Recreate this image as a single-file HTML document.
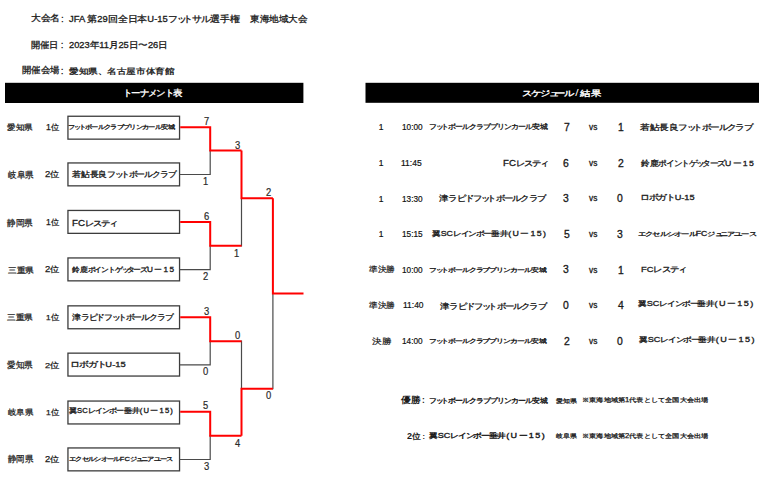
<!DOCTYPE html><html lang="ja"><head><meta charset="utf-8"><title>JFA 第29回全日本U-15フットサル選手権 東海地域大会</title><style>
html,body{margin:0;padding:0;background:#fff;}body{width:768px;height:480px;position:relative;overflow:hidden;font-family:"Liberation Sans", sans-serif;}#w{position:absolute;left:0;top:0;width:768px;height:480px;}
.t{position:absolute;line-height:1;white-space:nowrap;transform-origin:0 0;}
</style></head><body><div id="w">
<svg style="position:absolute;left:0;top:0" width="768" height="480" viewBox="0 0 768 480"><rect x="5" y="82.8" width="298.4" height="20.2" fill="#000"/><rect x="365.5" y="82.8" width="393.5" height="20.0" fill="#000"/><rect x="67.95" y="116.25" width="111.60" height="22.90" fill="#fff" stroke="#3c3c3c" stroke-width="1.3"/><rect x="67.95" y="162.95" width="111.60" height="22.90" fill="#fff" stroke="#3c3c3c" stroke-width="1.3"/><rect x="67.95" y="210.45" width="111.60" height="22.90" fill="#fff" stroke="#3c3c3c" stroke-width="1.3"/><rect x="67.95" y="257.95" width="111.60" height="22.90" fill="#fff" stroke="#3c3c3c" stroke-width="1.3"/><rect x="67.95" y="305.85" width="111.60" height="22.90" fill="#fff" stroke="#3c3c3c" stroke-width="1.3"/><rect x="67.95" y="353.15" width="111.60" height="22.90" fill="#fff" stroke="#3c3c3c" stroke-width="1.3"/><rect x="67.95" y="401.05" width="111.60" height="22.90" fill="#fff" stroke="#3c3c3c" stroke-width="1.3"/><rect x="67.95" y="447.95" width="111.60" height="22.90" fill="#fff" stroke="#3c3c3c" stroke-width="1.3"/><path d="M180.20 174.50H210.20V150.60M180.20 269.70H210.20V245.85M180.20 364.90H210.20V341.15M180.20 459.50H210.20V435.70M241.50 198.20V245.85M241.50 341.15V388.70M272.90 293.60V388.70" fill="none" stroke="#4a4a4a" stroke-width="1.2" stroke-linejoin="miter" stroke-linecap="square"/><path d="M180.20 127.35H210.20V150.60H241.50M180.20 222.05H210.20V245.85H241.50M180.20 317.30H210.20V341.15H241.50M180.20 411.70H210.20V435.70H241.50M241.50 150.60V198.20H272.90M241.50 435.70V388.70H272.90M272.90 198.20V293.60H303.50" fill="none" stroke="#f00" stroke-width="2.0" stroke-linejoin="miter" stroke-linecap="butt"/></svg>
<div class="t" style="left:30.66px;top:14.08px;font-size:8.65px;font-weight:normal;color:#1a1a1a;transform:scaleX(1.0803);-webkit-text-stroke:0.300px #1a1a1a">大会名</div>
<div class="t" style="left:61.33px;top:16.08px;font-size:8.13px;font-weight:normal;color:#1a1a1a;transform:scaleX(1.0000);-webkit-text-stroke:0.300px #1a1a1a">:</div>
<div class="t" style="left:68.61px;top:14.73px;font-size:8.50px;font-weight:normal;color:#1a1a1a;transform:scaleX(1.1040);-webkit-text-stroke:0.300px #1a1a1a">JFA 第29回全日本U-15<span style="letter-spacing:-0.12em">フ</span><span style="letter-spacing:-0.35em">ッ</span><span style="letter-spacing:-0.12em">トサル</span>選手権</div>
<div class="t" style="left:249.65px;top:14.81px;font-size:8.65px;font-weight:normal;color:#1a1a1a;transform:scaleX(1.0657);-webkit-text-stroke:0.300px #1a1a1a">東海地域大会</div>
<div class="t" style="left:31.05px;top:40.79px;font-size:8.86px;font-weight:normal;color:#1a1a1a;transform:scaleX(1.0265);-webkit-text-stroke:0.300px #1a1a1a">開催日</div>
<div class="t" style="left:60.92px;top:42.08px;font-size:8.13px;font-weight:normal;color:#1a1a1a;transform:scaleX(1.0000);-webkit-text-stroke:0.300px #1a1a1a">:</div>
<div class="t" style="left:68.66px;top:40.57px;font-size:8.78px;font-weight:normal;color:#1a1a1a;transform:scaleX(1.0612);-webkit-text-stroke:0.300px #1a1a1a">2023年11月25日〜26日</div>
<div class="t" style="left:21.61px;top:66.32px;font-size:8.66px;font-weight:normal;color:#1a1a1a;transform:scaleX(1.0392);-webkit-text-stroke:0.300px #1a1a1a">開催会場</div>
<div class="t" style="left:61.09px;top:68.24px;font-size:8.28px;font-weight:normal;color:#1a1a1a;transform:scaleX(1.0000);-webkit-text-stroke:0.300px #1a1a1a">:</div>
<div class="t" style="left:69.12px;top:67.77px;font-size:8.23px;font-weight:normal;color:#1a1a1a;transform:scaleX(1.1970);-webkit-text-stroke:0.300px #1a1a1a">愛知県、名古屋市体育館</div>
<div class="t" style="left:123.18px;top:89.25px;font-size:8.54px;font-weight:normal;color:#fff;transform:scaleX(1.0461);-webkit-text-stroke:0.350px #fff"><span style="letter-spacing:-0.12em">トーナメント</span>表</div>
<div class="t" style="left:522.40px;top:89.03px;font-size:8.46px;font-weight:normal;color:#fff;transform:scaleX(1.2859);-webkit-text-stroke:0.350px #fff"><span style="letter-spacing:-0.12em">スケジ</span><span style="letter-spacing:-0.35em">ュ</span><span style="letter-spacing:-0.12em">ール</span><span style="font-size:1.1em;line-height:0;margin-left:0.15em;letter-spacing:0.15em;font-weight:normal;-webkit-text-stroke:0">/</span>結果</div>
<div class="t" style="left:7.25px;top:122.52px;font-size:8.47px;font-weight:normal;color:#1a1a1a;transform:scaleX(1.0653);-webkit-text-stroke:0.250px #1a1a1a">愛知県</div>
<div class="t" style="left:45.94px;top:123.32px;font-size:8.46px;font-weight:normal;color:#1a1a1a;transform:scaleX(1.0340);-webkit-text-stroke:0.250px #1a1a1a">1位</div>
<div class="t" style="left:7.71px;top:170.74px;font-size:8.54px;font-weight:normal;color:#1a1a1a;transform:scaleX(0.9462);-webkit-text-stroke:0.250px #1a1a1a">岐阜県</div>
<div class="t" style="left:45.13px;top:171.11px;font-size:8.26px;font-weight:normal;color:#1a1a1a;transform:scaleX(1.1551);-webkit-text-stroke:0.250px #1a1a1a">2位</div>
<div class="t" style="left:7.47px;top:218.50px;font-size:8.65px;font-weight:normal;color:#1a1a1a;transform:scaleX(0.9545);-webkit-text-stroke:0.250px #1a1a1a">静岡県</div>
<div class="t" style="left:45.77px;top:219.43px;font-size:8.26px;font-weight:normal;color:#1a1a1a;transform:scaleX(1.0346);-webkit-text-stroke:0.250px #1a1a1a">1位</div>
<div class="t" style="left:7.69px;top:265.79px;font-size:8.45px;font-weight:normal;color:#1a1a1a;transform:scaleX(1.0823);-webkit-text-stroke:0.250px #1a1a1a">三重県</div>
<div class="t" style="left:45.13px;top:266.11px;font-size:8.26px;font-weight:normal;color:#1a1a1a;transform:scaleX(1.1551);-webkit-text-stroke:0.250px #1a1a1a">2位</div>
<div class="t" style="left:7.45px;top:313.96px;font-size:7.58px;font-weight:normal;color:#1a1a1a;transform:scaleX(1.0751);-webkit-text-stroke:0.250px #1a1a1a">三重県</div>
<div class="t" style="left:45.90px;top:313.65px;font-size:7.86px;font-weight:normal;color:#1a1a1a;transform:scaleX(1.0505);-webkit-text-stroke:0.250px #1a1a1a">1位</div>
<div class="t" style="left:7.31px;top:360.73px;font-size:8.86px;font-weight:normal;color:#1a1a1a;transform:scaleX(0.9527);-webkit-text-stroke:0.250px #1a1a1a">愛知県</div>
<div class="t" style="left:44.72px;top:361.60px;font-size:7.96px;font-weight:normal;color:#1a1a1a;transform:scaleX(1.1584);-webkit-text-stroke:0.250px #1a1a1a">2位</div>
<div class="t" style="left:7.66px;top:408.05px;font-size:8.44px;font-weight:normal;color:#1a1a1a;transform:scaleX(1.0567);-webkit-text-stroke:0.250px #1a1a1a">岐阜県</div>
<div class="t" style="left:46.06px;top:409.01px;font-size:8.06px;font-weight:normal;color:#1a1a1a;transform:scaleX(1.0499);-webkit-text-stroke:0.250px #1a1a1a">1位</div>
<div class="t" style="left:8.01px;top:455.30px;font-size:8.55px;font-weight:normal;color:#1a1a1a;transform:scaleX(0.9411);-webkit-text-stroke:0.250px #1a1a1a">静岡県</div>
<div class="t" style="left:45.05px;top:456.42px;font-size:8.16px;font-weight:normal;color:#1a1a1a;transform:scaleX(1.1546);-webkit-text-stroke:0.250px #1a1a1a">2位</div>
<div class="t" style="left:68.45px;top:123.94px;font-size:6.35px;font-weight:normal;color:#1a1a1a;transform:scaleX(1.2046);-webkit-text-stroke:0.300px #1a1a1a"><span style="letter-spacing:-0.12em">フ</span><span style="letter-spacing:-0.35em">ッ</span><span style="letter-spacing:-0.12em">トボールクラブプリンカール</span>安城</div>
<div class="t" style="left:72.33px;top:171.05px;font-size:7.86px;font-weight:normal;color:#1a1a1a;transform:scaleX(1.1032);-webkit-text-stroke:0.300px #1a1a1a">若鮎長良<span style="letter-spacing:-0.12em">フ</span><span style="letter-spacing:-0.35em">ッ</span><span style="letter-spacing:-0.12em">トボールクラブ</span></div>
<div class="t" style="left:72.12px;top:218.78px;font-size:8.29px;font-weight:normal;color:#1a1a1a;transform:scaleX(1.1695);-webkit-text-stroke:0.300px #1a1a1a">FC<span style="letter-spacing:-0.12em">レステ</span><span style="letter-spacing:-0.35em">ィ</span></div>
<div class="t" style="left:71.81px;top:265.67px;font-size:7.39px;font-weight:normal;color:#1a1a1a;transform:scaleX(1.1155);-webkit-text-stroke:0.300px #1a1a1a">鈴鹿<span style="letter-spacing:-0.12em">ポイントゲ</span><span style="letter-spacing:-0.35em">ッ</span><span style="letter-spacing:-0.12em">ターズ</span><span style="letter-spacing:0.16em">Uー15</span></div>
<div class="t" style="left:72.41px;top:313.79px;font-size:7.86px;font-weight:normal;color:#1a1a1a;transform:scaleX(1.1060);-webkit-text-stroke:0.300px #1a1a1a">津<span style="letter-spacing:-0.12em">ラピドフ</span><span style="letter-spacing:-0.35em">ッ</span><span style="letter-spacing:-0.12em">トボールクラブ</span></div>
<div class="t" style="left:70.45px;top:361.13px;font-size:7.52px;font-weight:normal;color:#1a1a1a;transform:scaleX(1.2457);-webkit-text-stroke:0.300px #1a1a1a"><span style="letter-spacing:-0.12em">ロボガト</span>U-15</div>
<div class="t" style="left:69.42px;top:408.43px;font-size:6.60px;font-weight:normal;color:#1a1a1a;transform:scaleX(1.1544);-webkit-text-stroke:0.300px #1a1a1a">翼SC<span style="letter-spacing:-0.12em">レインボー</span>垂井<span style="letter-spacing:0.16em">(Uー15)</span></div>
<div class="t" style="left:68.63px;top:455.96px;font-size:6.23px;font-weight:normal;color:#1a1a1a;transform:scaleX(1.2101);-webkit-text-stroke:0.300px #1a1a1a"><span style="letter-spacing:-0.12em">エクセルシオール</span>FC<span style="letter-spacing:-0.12em">ジ</span><span style="letter-spacing:-0.35em">ュ</span><span style="letter-spacing:-0.12em">ニアユース</span></div>
<div class="t" style="left:203.78px;top:116.97px;font-size:10.17px;font-weight:normal;color:#2a2a2a;transform:scaleX(0.9200);-webkit-text-stroke:0.200px #2a2a2a">7</div>
<div class="t" style="left:203.09px;top:177.34px;font-size:10.17px;font-weight:normal;color:#2a2a2a;transform:scaleX(0.9200);-webkit-text-stroke:0.200px #2a2a2a">1</div>
<div class="t" style="left:203.86px;top:212.15px;font-size:10.23px;font-weight:normal;color:#2a2a2a;transform:scaleX(0.9200);-webkit-text-stroke:0.200px #2a2a2a">6</div>
<div class="t" style="left:202.97px;top:272.32px;font-size:10.21px;font-weight:normal;color:#2a2a2a;transform:scaleX(0.9200);-webkit-text-stroke:0.200px #2a2a2a">2</div>
<div class="t" style="left:203.78px;top:307.27px;font-size:10.24px;font-weight:normal;color:#2a2a2a;transform:scaleX(0.9200);-webkit-text-stroke:0.200px #2a2a2a">3</div>
<div class="t" style="left:202.99px;top:367.38px;font-size:10.23px;font-weight:normal;color:#2a2a2a;transform:scaleX(0.9200);-webkit-text-stroke:0.200px #2a2a2a">0</div>
<div class="t" style="left:202.94px;top:401.43px;font-size:10.17px;font-weight:normal;color:#2a2a2a;transform:scaleX(0.9200);-webkit-text-stroke:0.200px #2a2a2a">5</div>
<div class="t" style="left:203.78px;top:462.27px;font-size:10.24px;font-weight:normal;color:#2a2a2a;transform:scaleX(0.9200);-webkit-text-stroke:0.200px #2a2a2a">3</div>
<div class="t" style="left:234.78px;top:140.77px;font-size:10.24px;font-weight:normal;color:#2a2a2a;transform:scaleX(0.9200);-webkit-text-stroke:0.200px #2a2a2a">3</div>
<div class="t" style="left:234.09px;top:249.09px;font-size:10.17px;font-weight:normal;color:#2a2a2a;transform:scaleX(0.9200);-webkit-text-stroke:0.200px #2a2a2a">1</div>
<div class="t" style="left:234.99px;top:330.63px;font-size:10.23px;font-weight:normal;color:#2a2a2a;transform:scaleX(0.9200);-webkit-text-stroke:0.200px #2a2a2a">0</div>
<div class="t" style="left:234.95px;top:438.61px;font-size:10.17px;font-weight:normal;color:#2a2a2a;transform:scaleX(0.9200);-webkit-text-stroke:0.200px #2a2a2a">4</div>
<div class="t" style="left:266.22px;top:187.82px;font-size:10.21px;font-weight:normal;color:#2a2a2a;transform:scaleX(0.9200);-webkit-text-stroke:0.200px #2a2a2a">2</div>
<div class="t" style="left:266.24px;top:391.38px;font-size:10.23px;font-weight:normal;color:#2a2a2a;transform:scaleX(0.9200);-webkit-text-stroke:0.200px #2a2a2a">0</div>
<div class="t" style="left:378.81px;top:122.80px;font-size:8.47px;font-weight:normal;color:#111;transform:scaleX(1.0000);-webkit-text-stroke:0.200px #111">1</div>
<div class="t" style="left:401.51px;top:122.80px;font-size:8.73px;font-weight:normal;color:#111;transform:scaleX(0.9413);-webkit-text-stroke:0.200px #111">10:00</div>
<div class="t" style="left:428.90px;top:124.17px;font-size:6.83px;font-weight:normal;color:#1a1a1a;transform:scaleX(1.1318);-webkit-text-stroke:0.300px #1a1a1a"><span style="letter-spacing:-0.12em">フ</span><span style="letter-spacing:-0.35em">ッ</span><span style="letter-spacing:-0.12em">トボールクラブプリンカール</span>安城</div>
<div class="t" style="left:563.51px;top:122.28px;font-size:11.51px;font-weight:normal;color:#1a1a1a;transform:scaleX(0.9000);-webkit-text-stroke:0.350px #1a1a1a">7</div>
<div class="t" style="left:589.12px;top:124.44px;font-size:8.20px;font-weight:normal;color:#222;transform:scaleX(1.0130);-webkit-text-stroke:0.300px #222">vs</div>
<div class="t" style="left:617.80px;top:121.90px;font-size:11.51px;font-weight:normal;color:#1a1a1a;transform:scaleX(0.9000);-webkit-text-stroke:0.350px #1a1a1a">1</div>
<div class="t" style="left:640.36px;top:123.83px;font-size:7.77px;font-weight:normal;color:#1a1a1a;transform:scaleX(1.1976);-webkit-text-stroke:0.300px #1a1a1a">若鮎長良<span style="letter-spacing:-0.12em">フ</span><span style="letter-spacing:-0.35em">ッ</span><span style="letter-spacing:-0.12em">トボールクラブ</span></div>
<div class="t" style="left:378.81px;top:158.80px;font-size:8.47px;font-weight:normal;color:#111;transform:scaleX(1.0000);-webkit-text-stroke:0.200px #111">1</div>
<div class="t" style="left:401.38px;top:158.81px;font-size:8.73px;font-weight:normal;color:#111;transform:scaleX(0.9738);-webkit-text-stroke:0.200px #111">11:45</div>
<div class="t" style="left:502.59px;top:159.29px;font-size:8.29px;font-weight:normal;color:#1a1a1a;transform:scaleX(1.1630);-webkit-text-stroke:0.300px #1a1a1a">FC<span style="letter-spacing:-0.12em">レステ</span><span style="letter-spacing:-0.35em">ィ</span></div>
<div class="t" style="left:563.46px;top:158.10px;font-size:11.52px;font-weight:normal;color:#1a1a1a;transform:scaleX(0.9000);-webkit-text-stroke:0.350px #1a1a1a">6</div>
<div class="t" style="left:589.12px;top:160.44px;font-size:8.20px;font-weight:normal;color:#222;transform:scaleX(1.0130);-webkit-text-stroke:0.300px #222">vs</div>
<div class="t" style="left:617.66px;top:157.82px;font-size:11.52px;font-weight:normal;color:#1a1a1a;transform:scaleX(0.9000);-webkit-text-stroke:0.350px #1a1a1a">2</div>
<div class="t" style="left:641.31px;top:159.55px;font-size:8.06px;font-weight:normal;color:#1a1a1a;transform:scaleX(1.0833);-webkit-text-stroke:0.300px #1a1a1a">鈴鹿<span style="letter-spacing:-0.12em">ポイントゲ</span><span style="letter-spacing:-0.35em">ッ</span><span style="letter-spacing:-0.12em">ターズ</span><span style="letter-spacing:0.16em">Uー15</span></div>
<div class="t" style="left:378.81px;top:194.80px;font-size:8.47px;font-weight:normal;color:#111;transform:scaleX(1.0000);-webkit-text-stroke:0.200px #111">1</div>
<div class="t" style="left:401.51px;top:194.81px;font-size:8.73px;font-weight:normal;color:#111;transform:scaleX(0.9413);-webkit-text-stroke:0.200px #111">13:30</div>
<div class="t" style="left:439.23px;top:194.89px;font-size:8.01px;font-weight:normal;color:#1a1a1a;transform:scaleX(1.1704);-webkit-text-stroke:0.300px #1a1a1a">津<span style="letter-spacing:-0.12em">ラピドフ</span><span style="letter-spacing:-0.35em">ッ</span><span style="letter-spacing:-0.12em">トボールクラブ</span></div>
<div class="t" style="left:563.41px;top:193.07px;font-size:11.52px;font-weight:normal;color:#1a1a1a;transform:scaleX(0.9000);-webkit-text-stroke:0.350px #1a1a1a">3</div>
<div class="t" style="left:589.12px;top:195.44px;font-size:8.20px;font-weight:normal;color:#222;transform:scaleX(1.0130);-webkit-text-stroke:0.300px #222">vs</div>
<div class="t" style="left:617.48px;top:193.27px;font-size:11.52px;font-weight:normal;color:#1a1a1a;transform:scaleX(0.9000);-webkit-text-stroke:0.350px #1a1a1a">0</div>
<div class="t" style="left:640.18px;top:194.11px;font-size:7.52px;font-weight:normal;color:#1a1a1a;transform:scaleX(1.2210);-webkit-text-stroke:0.300px #1a1a1a"><span style="letter-spacing:-0.12em">ロボガト</span>U-15</div>
<div class="t" style="left:378.81px;top:229.80px;font-size:8.47px;font-weight:normal;color:#111;transform:scaleX(1.0000);-webkit-text-stroke:0.200px #111">1</div>
<div class="t" style="left:401.65px;top:229.82px;font-size:8.73px;font-weight:normal;color:#111;transform:scaleX(0.9475);-webkit-text-stroke:0.200px #111">15:15</div>
<div class="t" style="left:432.25px;top:230.60px;font-size:7.14px;font-weight:normal;color:#1a1a1a;transform:scaleX(1.2371);-webkit-text-stroke:0.300px #1a1a1a">翼SC<span style="letter-spacing:-0.12em">レインボー</span>垂井<span style="letter-spacing:0.16em">(Uー15)</span></div>
<div class="t" style="left:563.60px;top:229.38px;font-size:11.51px;font-weight:normal;color:#1a1a1a;transform:scaleX(0.9000);-webkit-text-stroke:0.350px #1a1a1a">5</div>
<div class="t" style="left:589.12px;top:231.44px;font-size:8.20px;font-weight:normal;color:#222;transform:scaleX(1.0130);-webkit-text-stroke:0.300px #222">vs</div>
<div class="t" style="left:617.41px;top:229.07px;font-size:11.52px;font-weight:normal;color:#1a1a1a;transform:scaleX(0.9000);-webkit-text-stroke:0.350px #1a1a1a">3</div>
<div class="t" style="left:637.57px;top:230.52px;font-size:6.28px;font-weight:normal;color:#1a1a1a;transform:scaleX(1.3772);-webkit-text-stroke:0.300px #1a1a1a"><span style="letter-spacing:-0.12em">エクセルシオール</span>FC<span style="letter-spacing:-0.12em">ジ</span><span style="letter-spacing:-0.35em">ュ</span><span style="letter-spacing:-0.12em">ニアユース</span></div>
<div class="t" style="left:369.02px;top:266.40px;font-size:8.00px;font-weight:normal;color:#1a1a1a;transform:scaleX(1.0821);-webkit-text-stroke:0.200px #1a1a1a">準決勝</div>
<div class="t" style="left:401.51px;top:265.80px;font-size:8.73px;font-weight:normal;color:#111;transform:scaleX(0.9413);-webkit-text-stroke:0.200px #111">10:00</div>
<div class="t" style="left:428.98px;top:266.52px;font-size:6.16px;font-weight:normal;color:#1a1a1a;transform:scaleX(1.3138);-webkit-text-stroke:0.300px #1a1a1a"><span style="letter-spacing:-0.12em">フ</span><span style="letter-spacing:-0.35em">ッ</span><span style="letter-spacing:-0.12em">トボールクラブプリンカール</span>安城</div>
<div class="t" style="left:563.41px;top:264.07px;font-size:11.52px;font-weight:normal;color:#1a1a1a;transform:scaleX(0.9000);-webkit-text-stroke:0.350px #1a1a1a">3</div>
<div class="t" style="left:589.12px;top:267.44px;font-size:8.20px;font-weight:normal;color:#222;transform:scaleX(1.0130);-webkit-text-stroke:0.300px #222">vs</div>
<div class="t" style="left:617.80px;top:264.90px;font-size:11.51px;font-weight:normal;color:#1a1a1a;transform:scaleX(0.9000);-webkit-text-stroke:0.350px #1a1a1a">1</div>
<div class="t" style="left:641.36px;top:265.92px;font-size:7.95px;font-weight:normal;color:#1a1a1a;transform:scaleX(1.1708);-webkit-text-stroke:0.300px #1a1a1a">FC<span style="letter-spacing:-0.12em">レステ</span><span style="letter-spacing:-0.35em">ィ</span></div>
<div class="t" style="left:369.02px;top:302.40px;font-size:8.00px;font-weight:normal;color:#1a1a1a;transform:scaleX(1.0821);-webkit-text-stroke:0.200px #1a1a1a">準決勝</div>
<div class="t" style="left:402.52px;top:300.81px;font-size:8.73px;font-weight:normal;color:#111;transform:scaleX(0.9700);-webkit-text-stroke:0.200px #111">11:40</div>
<div class="t" style="left:439.93px;top:302.98px;font-size:7.81px;font-weight:normal;color:#1a1a1a;transform:scaleX(1.1641);-webkit-text-stroke:0.300px #1a1a1a">津<span style="letter-spacing:-0.12em">ラピドフ</span><span style="letter-spacing:-0.35em">ッ</span><span style="letter-spacing:-0.12em">トボールクラブ</span></div>
<div class="t" style="left:563.48px;top:300.27px;font-size:11.52px;font-weight:normal;color:#1a1a1a;transform:scaleX(0.9000);-webkit-text-stroke:0.350px #1a1a1a">0</div>
<div class="t" style="left:589.12px;top:302.44px;font-size:8.20px;font-weight:normal;color:#222;transform:scaleX(1.0130);-webkit-text-stroke:0.300px #222">vs</div>
<div class="t" style="left:617.58px;top:300.28px;font-size:11.51px;font-weight:normal;color:#1a1a1a;transform:scaleX(0.9000);-webkit-text-stroke:0.350px #1a1a1a">4</div>
<div class="t" style="left:638.05px;top:300.11px;font-size:7.37px;font-weight:normal;color:#1a1a1a;transform:scaleX(1.2393);-webkit-text-stroke:0.300px #1a1a1a">翼SC<span style="letter-spacing:-0.12em">レインボー</span>垂井<span style="letter-spacing:0.16em">(Uー15)</span></div>
<div class="t" style="left:372.13px;top:337.52px;font-size:7.80px;font-weight:normal;color:#1a1a1a;transform:scaleX(1.1952);-webkit-text-stroke:0.200px #1a1a1a">決勝</div>
<div class="t" style="left:401.51px;top:336.80px;font-size:8.73px;font-weight:normal;color:#111;transform:scaleX(0.9413);-webkit-text-stroke:0.200px #111">14:00</div>
<div class="t" style="left:428.98px;top:338.02px;font-size:6.16px;font-weight:normal;color:#1a1a1a;transform:scaleX(1.3138);-webkit-text-stroke:0.300px #1a1a1a"><span style="letter-spacing:-0.12em">フ</span><span style="letter-spacing:-0.35em">ッ</span><span style="letter-spacing:-0.12em">トボールクラブプリンカール</span>安城</div>
<div class="t" style="left:563.66px;top:335.82px;font-size:11.52px;font-weight:normal;color:#1a1a1a;transform:scaleX(0.9000);-webkit-text-stroke:0.350px #1a1a1a">2</div>
<div class="t" style="left:589.12px;top:338.44px;font-size:8.20px;font-weight:normal;color:#222;transform:scaleX(1.0130);-webkit-text-stroke:0.300px #222">vs</div>
<div class="t" style="left:617.48px;top:336.27px;font-size:11.52px;font-weight:normal;color:#1a1a1a;transform:scaleX(0.9000);-webkit-text-stroke:0.350px #1a1a1a">0</div>
<div class="t" style="left:638.72px;top:336.00px;font-size:7.33px;font-weight:normal;color:#1a1a1a;transform:scaleX(1.2417);-webkit-text-stroke:0.300px #1a1a1a">翼SC<span style="letter-spacing:-0.12em">レインボー</span>垂井<span style="letter-spacing:0.16em">(Uー15)</span></div>
<div class="t" style="left:401.43px;top:395.71px;font-size:8.79px;font-weight:bold;color:#1a1a1a;transform:scaleX(1.0870)">優勝</div>
<div class="t" style="left:422.12px;top:396.44px;font-size:8.38px;font-weight:bold;color:#1a1a1a;transform:scaleX(1.0000)">:</div>
<div class="t" style="left:428.97px;top:397.64px;font-size:6.62px;font-weight:normal;color:#1a1a1a;transform:scaleX(1.1263);-webkit-text-stroke:0.350px #1a1a1a"><span style="letter-spacing:-0.12em">フ</span><span style="letter-spacing:-0.35em">ッ</span><span style="letter-spacing:-0.12em">トボールクラブプリンカール</span>安城</div>
<div class="t" style="left:555.73px;top:397.55px;font-size:6.03px;font-weight:normal;color:#1a1a1a;transform:scaleX(1.1543);-webkit-text-stroke:0.250px #1a1a1a">愛知県</div>
<div class="t" style="left:582.19px;top:396.81px;font-size:6.43px;font-weight:normal;color:#1a1a1a;transform:scaleX(1.1959);-webkit-text-stroke:0.250px #1a1a1a">※東海地域第1代表として全国大会出場</div>
<div class="t" style="left:406.56px;top:431.62px;font-size:8.39px;font-weight:bold;color:#1a1a1a;transform:scaleX(1.0846)">2位</div>
<div class="t" style="left:422.45px;top:433.40px;font-size:7.39px;font-weight:bold;color:#1a1a1a;transform:scaleX(1.0000)">:</div>
<div class="t" style="left:429.39px;top:432.38px;font-size:7.23px;font-weight:normal;color:#1a1a1a;transform:scaleX(1.2503);-webkit-text-stroke:0.350px #1a1a1a">翼SC<span style="letter-spacing:-0.12em">レインボー</span>垂井<span style="letter-spacing:0.16em">(Uー15)</span></div>
<div class="t" style="left:555.84px;top:434.23px;font-size:5.89px;font-weight:normal;color:#1a1a1a;transform:scaleX(1.1445);-webkit-text-stroke:0.250px #1a1a1a">岐阜県</div>
<div class="t" style="left:582.19px;top:432.80px;font-size:6.43px;font-weight:normal;color:#1a1a1a;transform:scaleX(1.1959);-webkit-text-stroke:0.250px #1a1a1a">※東海地域第2代表として全国大会出場</div>
</div></body></html>
